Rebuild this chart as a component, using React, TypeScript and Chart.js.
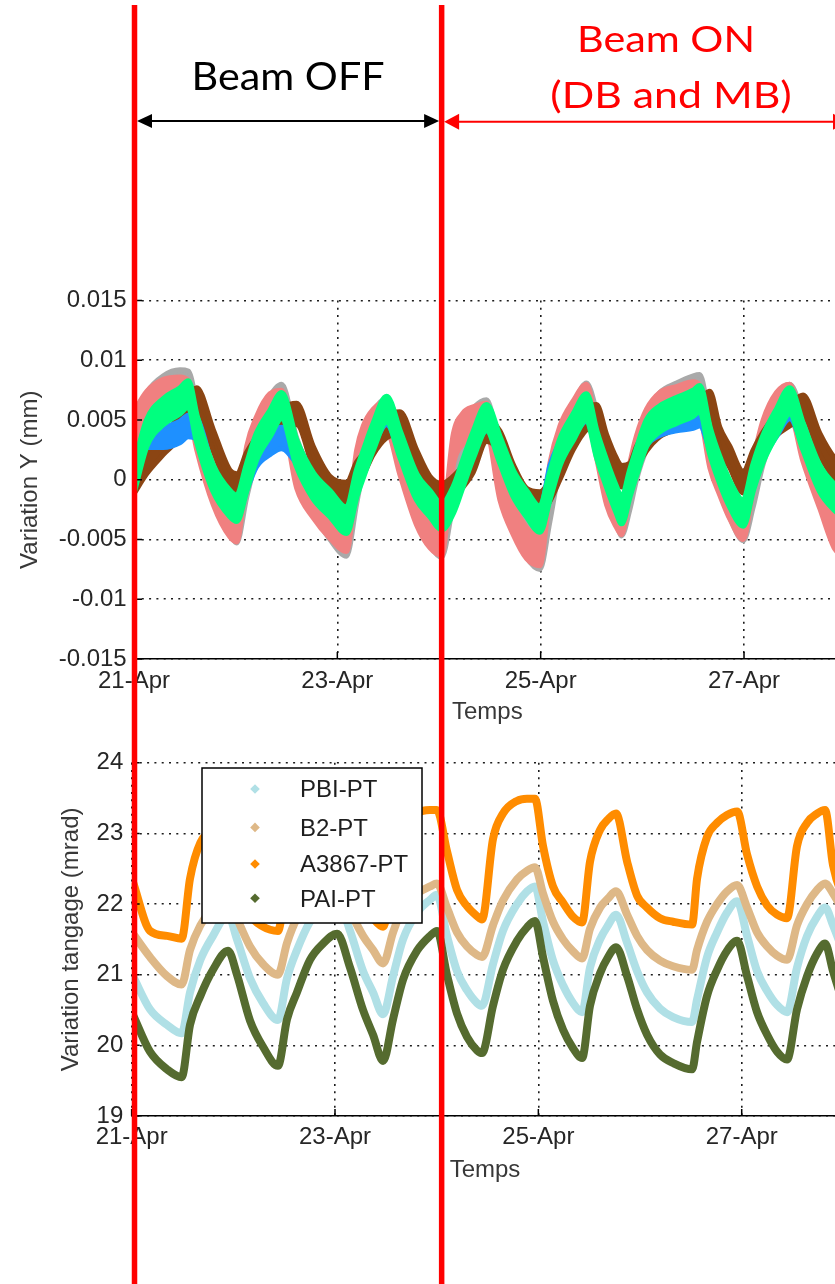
import React, { useEffect, useRef } from 'react';
import { Chart, registerables } from 'chart.js';

Chart.register(...registerables);

// ---------------- data ----------------
const xTickValues = [0, 2, 4, 6];
const xTickLabels = ['21-Apr', '23-Apr', '25-Apr', '27-Apr'];
const topYTickValues = [-0.015, -0.01, -0.005, 0, 0.005, 0.01, 0.015];
const topYTickLabels = ['-0.015', '-0.01', '-0.005', '0', '0.005', '0.01', '0.015'];
const bottomYTickValues = [19, 20, 21, 22, 23, 24];
const bottomYTickLabels = ['19', '20', '21', '22', '23', '24'];
// days since 21-Apr 00:00 where the beam state changes (red markers)
const beamSwitchTimes = [0.005, 3.026];

// top chart: time (days since 21-Apr 00:00) and band centres (mm)
const topTimes = [0.005, 0.125, 0.288, 0.452, 0.534, 0.617, 0.780, 0.944, 1.010, 1.108, 1.206, 1.337, 1.452, 1.600, 1.763, 1.927, 2.091, 2.190, 2.255, 2.353, 2.485, 2.616, 2.780, 2.911, 3.026, 3.140, 3.238, 3.336, 3.468, 3.599, 3.730, 3.861, 3.992, 4.091, 4.189, 4.320, 4.451, 4.550, 4.648, 4.746, 4.796, 4.877, 4.943, 5.041, 5.172, 5.336, 5.500, 5.565, 5.664, 5.762, 5.861, 5.992, 6.090, 6.188, 6.319, 6.450, 6.581, 6.745, 6.893, 7.040];
const yGray = [0.0035, 0.0058, 0.0072, 0.0077, 0.0076, 0.0050, 0.0000, -0.0030, -0.0038, 0.0000, 0.0032, 0.0055, 0.0065, 0.0020, -0.0012, -0.0035, -0.0049, -0.0005, 0.0022, 0.0042, 0.0053, 0.0028, -0.0015, -0.0040, -0.0050, -0.0005, 0.0032, 0.0045, 0.0052, 0.0010, -0.0025, -0.0050, -0.0060, -0.0020, 0.0025, 0.0048, 0.0066, 0.0042, 0.0002, -0.0022, -0.0032, -0.0010, 0.0015, 0.0040, 0.0058, 0.0066, 0.0072, 0.0073, 0.0035, 0.0005, -0.0017, -0.0036, -0.0008, 0.0028, 0.0055, 0.0065, 0.0040, 0.0000, -0.0040, -0.0052];
const ySalmon = [0.0045, 0.0061, 0.0071, 0.0073, 0.0070, 0.0038, -0.0008, -0.0035, -0.0039, 0.0015, 0.0040, 0.0059, 0.0062, 0.0006, -0.0019, -0.0036, -0.0047, 0.0012, 0.0032, 0.0046, 0.0053, 0.0017, -0.0025, -0.0044, -0.0050, 0.0025, 0.0043, 0.0048, 0.0051, -0.0004, -0.0033, -0.0053, -0.0059, 0.0001, 0.0032, 0.0053, 0.0067, 0.0031, -0.0008, -0.0027, -0.0033, 0.0001, 0.0024, 0.0046, 0.0060, 0.0065, 0.0069, 0.0066, 0.0023, 0.0000, -0.0020, -0.0037, 0.0004, 0.0037, 0.0060, 0.0067, 0.0028, -0.0011, -0.0045, -0.0055];
const yBrown = [-0.0002, 0.0014, 0.0030, 0.0045, 0.0060, 0.0068, 0.0033, -0.0001, -0.0004, 0.0014, 0.0027, 0.0042, 0.0051, 0.0055, 0.0019, -0.0006, -0.0011, 0.0006, 0.0013, 0.0030, 0.0044, 0.0048, 0.0016, -0.0006, -0.0012, -0.0006, 0.0003, 0.0015, 0.0041, 0.0032, 0.0004, -0.0016, -0.0019, -0.0009, 0.0009, 0.0034, 0.0051, 0.0054, 0.0029, 0.0009, 0.0003, 0.0005, 0.0019, 0.0033, 0.0045, 0.0051, 0.0055, 0.0058, 0.0065, 0.0035, 0.0019, -0.0002, 0.0016, 0.0031, 0.0046, 0.0054, 0.0062, 0.0030, 0.0009, -0.0002];
const yBlue = [0.0002, 0.0036, 0.0036, 0.0040, 0.0045, 0.0043, 0.0001, -0.0020, -0.0024, 0.0000, 0.0020, 0.0030, 0.0035, 0.0022, -0.0005, -0.0020, -0.0034, -0.0003, 0.0013, 0.0036, 0.0055, 0.0030, -0.0006, -0.0020, -0.0031, -0.0017, 0.0006, 0.0029, 0.0050, 0.0025, -0.0003, -0.0020, -0.0033, 0.0003, 0.0023, 0.0044, 0.0058, 0.0030, 0.0005, -0.0017, -0.0026, -0.0003, 0.0015, 0.0037, 0.0046, 0.0050, 0.0052, 0.0054, 0.0033, 0.0008, -0.0012, -0.0028, 0.0002, 0.0026, 0.0045, 0.0060, 0.0036, 0.0001, -0.0015, -0.0025];
const yGreen = [0.0002, 0.0039, 0.0057, 0.0066, 0.0072, 0.0043, 0.0001, -0.0020, -0.0024, 0.0002, 0.0028, 0.0047, 0.0062, 0.0022, -0.0005, -0.0020, -0.0034, -0.0003, 0.0013, 0.0036, 0.0059, 0.0030, -0.0006, -0.0020, -0.0031, -0.0017, 0.0006, 0.0029, 0.0052, 0.0025, -0.0003, -0.0020, -0.0033, -0.0005, 0.0023, 0.0044, 0.0061, 0.0030, 0.0005, -0.0017, -0.0026, -0.0003, 0.0015, 0.0039, 0.0051, 0.0058, 0.0064, 0.0068, 0.0033, 0.0008, -0.0012, -0.0028, 0.0002, 0.0026, 0.0048, 0.0066, 0.0036, 0.0001, -0.0015, -0.0025];
const topSeriesLabels = ['Capteur 5', 'Capteur 4', 'Capteur 3', 'Capteur 2', 'Capteur 1'];
// half spread (noise) of each band, mm
const topBandHalfWidth = [0.0015, 0.0013, 0.0009, 0.0009, 0.00105];

// bottom chart
const bottomTimes = [0.013, 0.180, 0.348, 0.492, 0.574, 0.676, 0.800, 0.948, 1.036, 1.164, 1.292, 1.439, 1.528, 1.626, 1.754, 1.882, 2.020, 2.148, 2.276, 2.374, 2.473, 2.571, 2.669, 2.807, 2.935, 3.003, 3.101, 3.200, 3.298, 3.396, 3.446, 3.554, 3.652, 3.790, 3.888, 3.967, 4.046, 4.144, 4.243, 4.341, 4.430, 4.508, 4.607, 4.686, 4.764, 4.873, 4.971, 5.069, 5.197, 5.325, 5.512, 5.561, 5.659, 5.758, 5.856, 5.955, 6.053, 6.151, 6.250, 6.348, 6.446, 6.544, 6.643, 6.741, 6.820, 6.898, 7.016];
const pbiPT = [20.98, 20.51, 20.29, 20.17, 20.75, 21.21, 21.55, 21.85, 21.50, 20.95, 20.60, 20.36, 20.95, 21.35, 21.75, 21.97, 22.08, 21.62, 21.05, 20.75, 20.44, 20.98, 21.50, 21.88, 22.06, 22.13, 21.55, 21.05, 20.78, 20.60, 20.56, 21.15, 21.62, 22.00, 22.18, 22.25, 21.75, 21.20, 20.85, 20.60, 20.47, 21.10, 21.50, 21.70, 21.85, 21.45, 21.05, 20.75, 20.52, 20.40, 20.33, 20.65, 21.25, 21.60, 21.88, 22.04, 21.55, 21.05, 20.77, 20.57, 20.47, 21.10, 21.55, 21.82, 21.95, 21.70, 21.25];
const b2PT = [21.58, 21.25, 20.98, 20.86, 21.35, 21.70, 21.95, 22.10, 21.80, 21.40, 21.15, 21.00, 21.45, 21.80, 22.05, 22.20, 22.30, 21.90, 21.55, 21.35, 21.16, 21.60, 21.95, 22.15, 22.25, 22.29, 21.95, 21.60, 21.40, 21.28, 21.25, 21.70, 22.05, 22.35, 22.47, 22.52, 22.15, 21.75, 21.50, 21.33, 21.23, 21.65, 21.95, 22.08, 22.18, 21.85, 21.55, 21.35, 21.20, 21.12, 21.07, 21.35, 21.75, 22.00, 22.18, 22.27, 21.95, 21.60, 21.40, 21.27, 21.21, 21.70, 22.00, 22.20, 22.29, 22.15, 21.85];
const a3867PT = [22.31, 21.62, 21.55, 21.51, 22.36, 22.87, 23.02, 23.05, 22.35, 21.85, 21.68, 21.62, 22.40, 22.90, 23.12, 23.20, 23.22, 22.45, 22.00, 21.80, 21.68, 22.45, 23.00, 23.28, 23.33, 23.33, 22.75, 22.20, 21.97, 21.83, 21.78, 22.92, 23.28, 23.46, 23.49, 23.49, 22.82, 22.25, 22.02, 21.82, 21.74, 22.60, 23.05, 23.20, 23.28, 22.60, 22.12, 21.95, 21.80, 21.75, 21.71, 22.36, 22.95, 23.15, 23.26, 23.31, 22.70, 22.25, 21.98, 21.85, 21.80, 22.82, 23.15, 23.28, 23.33, 22.55, 22.00];
const paiPT = [20.43, 19.91, 19.66, 19.55, 20.29, 20.70, 21.07, 21.34, 21.00, 20.35, 19.98, 19.71, 20.37, 20.75, 21.21, 21.44, 21.58, 21.10, 20.50, 20.15, 19.78, 20.37, 20.93, 21.34, 21.55, 21.62, 21.00, 20.45, 20.12, 19.93, 19.89, 20.56, 21.07, 21.48, 21.67, 21.76, 21.25, 20.63, 20.22, 19.96, 19.82, 20.56, 21.02, 21.25, 21.39, 20.98, 20.51, 20.15, 19.87, 19.75, 19.66, 20.05, 20.70, 21.07, 21.34, 21.48, 20.98, 20.47, 20.15, 19.91, 19.80, 20.51, 20.98, 21.30, 21.44, 21.05, 20.50];
const bottomLabels = ['PBI-PT', 'B2-PT', 'A3867-PT', 'PAI-PT'];

// ---------------- styles ----------------
const TOP_COLORS = ['#A9A9A9', '#F08080', '#8B4513', '#1E90FF', '#00FF7F'];
const TOP_EDGE_WIDTH = [5, 5, 5, 5, 6];
const BOTTOM_COLORS = ['#B0E0E6', '#DEB887', '#FF8C00', '#556B2F'];
const FONT = { family: "'Liberation Sans', Arial, sans-serif", size: 24, lineHeight: 1.2 };
const TICK_COLOR = '#262626';
const TITLE_COLOR = '#383838';
const X_MAX = 6.95;
const CANVAS_W = 900;
const TOP_H = 740;
const BOT_H = 544;

const shared: { redXs: number[] } = { redXs: [] };

function fixedTicks(values: number[]) {
  return (scale: any) => {
    scale.ticks = values.map((v) => ({ value: v }));
  };
}

function makeScales(o: {
  yTicks: number[]; yLabels: string[]; yMin: number; yMax: number; yWidth: number;
  yTickPad: number; yTitle: string; yTitlePad: number; xHeight: number; xTickPad: number;
}) {
  const grid = { color: '#1c1c1c', lineWidth: 1.6, drawTicks: false };
  const xBorder = { display: true, color: '#000', width: 1.5, dash: [2, 5.3] };
  const yBorder = { display: true, color: 'rgba(0,0,0,0)', width: 1.5, dash: [2, 5.3] };
  return {
    x: {
      type: 'linear', min: 0, max: X_MAX, bounds: 'data',
      afterBuildTicks: fixedTicks(xTickValues),
      afterFit: (s: any) => { s.height = o.xHeight; },
      ticks: {
        callback: (_v: any, i: number) => xTickLabels[i], padding: o.xTickPad,
        font: FONT, color: TICK_COLOR, maxRotation: 0, autoSkip: false,
      },
      grid, border: xBorder,
      title: { display: true, text: 'Temps', font: FONT, color: TITLE_COLOR, padding: { top: 0, bottom: 0 } },
    },
    y: {
      type: 'linear', min: o.yMin, max: o.yMax, bounds: 'data',
      afterBuildTicks: fixedTicks(o.yTicks),
      afterFit: (s: any) => { s.width = o.yWidth; },
      ticks: {
        callback: (_v: any, i: number) => o.yLabels[i], padding: o.yTickPad,
        font: FONT, color: TICK_COLOR, autoSkip: false,
      },
      grid, border: yBorder,
      title: { display: true, text: o.yTitle, font: FONT, color: TITLE_COLOR, padding: { top: o.yTitlePad, bottom: 0 } },
    },
  };
}

const inwardTicks = {
  id: 'inwardTicks',
  afterDatasetsDraw(chart: any) {
    const { ctx, chartArea: a, scales } = chart;
    ctx.save();
    ctx.strokeStyle = '#000';
    ctx.lineWidth = 1.5;
    ctx.beginPath();
    scales.x.ticks.forEach((t: any) => {
      const px = scales.x.getPixelForValue(t.value);
      ctx.moveTo(px, a.bottom);
      ctx.lineTo(px, a.bottom - 7);
    });
    scales.y.ticks.forEach((t: any) => {
      const py = scales.y.getPixelForValue(t.value);
      ctx.moveTo(a.left, py);
      ctx.lineTo(a.left + 8, py);
    });
    ctx.stroke();
    ctx.restore();
  },
};

function drawRedLines(ctx: CanvasRenderingContext2D, xs: number[], y0: number, y1: number) {
  ctx.save();
  ctx.strokeStyle = '#FF0000';
  ctx.lineWidth = 5.5;
  ctx.beginPath();
  xs.forEach((x) => { ctx.moveTo(x, y0); ctx.lineTo(x, y1); });
  ctx.stroke();
  ctx.restore();
}

function fitText(ctx: CanvasRenderingContext2D, text: string, cx: number, baseline: number, width: number, size: number, color: string) {
  ctx.save();
  ctx.font = `${size}px Lato, 'Open Sans', sans-serif`;
  const w = ctx.measureText(text).width;
  ctx.translate(cx, baseline);
  ctx.scale(width / w, 1);
  ctx.fillStyle = color;
  ctx.textAlign = 'center';
  ctx.textBaseline = 'alphabetic';
  ctx.fillText(text, 0, 0);
  ctx.restore();
}

function arrowHead(ctx: CanvasRenderingContext2D, tipX: number, y: number, dir: number, len: number, half: number) {
  ctx.beginPath();
  ctx.moveTo(tipX, y);
  ctx.lineTo(tipX - dir * len, y - half);
  ctx.lineTo(tipX - dir * len, y + half);
  ctx.closePath();
  ctx.fill();
}

const topOverlay = {
  id: 'topOverlay',
  afterDraw(chart: any) {
    const ctx: CanvasRenderingContext2D = chart.ctx;
    const xs = beamSwitchTimes.map((t) => chart.scales.x.getPixelForValue(t));
    shared.redXs = xs;
    // black arrow: Beam OFF period
    ctx.save();
    ctx.strokeStyle = '#000';
    ctx.fillStyle = '#000';
    ctx.lineWidth = 2;
    const ya = 121;
    const l1 = xs[0] + 2.5;
    const r1 = xs[1] - 2.5;
    ctx.beginPath();
    ctx.moveTo(l1 + 8, ya);
    ctx.lineTo(r1 - 8, ya);
    ctx.stroke();
    arrowHead(ctx, l1, ya, -1, 15, 7);
    arrowHead(ctx, r1, ya, 1, 15, 7);
    // red arrow: Beam ON period
    ctx.strokeStyle = '#FF0000';
    ctx.fillStyle = '#FF0000';
    const yb = 121.7;
    const l2 = xs[1] + 2.5;
    ctx.beginPath();
    ctx.moveTo(l2 + 8, yb);
    ctx.lineTo(840, yb);
    ctx.stroke();
    arrowHead(ctx, l2, yb, -1, 15, 8);
    arrowHead(ctx, 848, yb, 1, 15, 8);
    ctx.restore();
    fitText(ctx, 'Beam OFF', (xs[0] + xs[1]) / 2, 90, 193, 39.5, '#000');
    fitText(ctx, 'Beam ON', 666, 51.7, 178, 37.3, '#FF0000');
    fitText(ctx, '(DB and MB)', 671, 108.3, 241.5, 36, '#FF0000');
    drawRedLines(ctx, xs, 5, chart.height);
  },
};

const bottomOverlay = {
  id: 'bottomOverlay',
  afterDatasetsDraw(chart: any) {
    const ctx: CanvasRenderingContext2D = chart.ctx;
    // legend box
    const bx = 202, by = 28, bw = 220, bh = 155;
    ctx.save();
    ctx.fillStyle = '#fff';
    ctx.fillRect(bx, by, bw, bh);
    ctx.strokeStyle = '#000';
    ctx.lineWidth = 1.5;
    ctx.strokeRect(bx, by, bw, bh);
    const rowY = [50.8, 89.2, 125.8, 160];
    ctx.font = `24px 'Liberation Sans', Arial, sans-serif`;
    ctx.textAlign = 'left';
    ctx.textBaseline = 'middle';
    bottomLabels.forEach((lab, i) => {
      const ds = chart.data.datasets.find((d: any) => d.label === lab);
      const my = rowY[i] - 1.8;
      ctx.fillStyle = ds.borderColor;
      ctx.beginPath();
      ctx.moveTo(255, my - 4.8);
      ctx.lineTo(259.8, my);
      ctx.lineTo(255, my + 4.8);
      ctx.lineTo(250.2, my);
      ctx.closePath();
      ctx.fill();
      ctx.fillStyle = '#1e1e1e';
      ctx.fillText(lab, 300, rowY[i]);
    });
    ctx.restore();
  },
  afterDraw(chart: any) {
    drawRedLines(chart.ctx, shared.redXs, 0, chart.height);
  },
};

function topConfig(): any {
  const series = [yGray, ySalmon, yBrown, yBlue, yGreen];
  const datasets: any[] = [];
  series.forEach((vals, k) => {
    const half = topBandHalfWidth[k];
    const common = {
      borderColor: TOP_COLORS[k], backgroundColor: TOP_COLORS[k], borderWidth: TOP_EDGE_WIDTH[k],
      pointRadius: 0, cubicInterpolationMode: 'monotone', order: 10 - k,
      borderJoinStyle: 'round', borderCapStyle: 'round',
    };
    datasets.push({ ...common, label: topSeriesLabels[k] + ' min', data: topTimes.map((t, i) => ({ x: t, y: vals[i] - half })), fill: false });
    datasets.push({ ...common, label: topSeriesLabels[k] + ' max', data: topTimes.map((t, i) => ({ x: t, y: vals[i] + half })), fill: '-1' });
  });
  return {
    type: 'line',
    data: { datasets },
    options: {
      responsive: false, animation: false, devicePixelRatio: 1, events: [],
      layout: { padding: { top: 300.5, left: 0, right: CANVAS_W - 840.6, bottom: 13.6 } },
      plugins: { legend: { display: false }, tooltip: { enabled: false } },
      scales: makeScales({
        yTicks: topYTickValues, yLabels: topYTickLabels, yMin: -0.015, yMax: 0.015, yWidth: 134,
        yTickPad: 7.3, yTitle: 'Variation Y (mm)', yTitlePad: 15.6, xHeight: 67.4, xTickPad: 8.1,
      }),
    },
    plugins: [inwardTicks, topOverlay],
  };
}

function bottomConfig(): any {
  const series = [pbiPT, b2PT, a3867PT, paiPT];
  const datasets = series.map((vals, k) => ({
    label: bottomLabels[k],
    data: bottomTimes.map((t, i) => ({ x: t, y: vals[i] })),
    borderColor: BOTTOM_COLORS[k], backgroundColor: BOTTOM_COLORS[k], borderWidth: 8,
    pointRadius: 0, cubicInterpolationMode: 'monotone', fill: false, order: 4 - k,
    borderJoinStyle: 'round',
  }));
  return {
    type: 'line',
    data: { datasets },
    options: {
      responsive: false, animation: false, devicePixelRatio: 1, events: [],
      layout: { padding: { top: 15, left: 0, right: CANVAS_W - 838.3, bottom: 99.6 } },
      plugins: { legend: { display: false }, tooltip: { enabled: false } },
      scales: makeScales({
        yTicks: bottomYTickValues, yLabels: bottomYTickLabels, yMin: 19, yMax: 24, yWidth: 131.65,
        yTickPad: 8.35, yTitle: 'Variation tangage (mrad)', yTitlePad: 56.6, xHeight: 68.4, xTickPad: 6.6,
      }),
    },
    plugins: [inwardTicks, bottomOverlay],
  };
}

export default function App() {
  const topRef = useRef<HTMLCanvasElement>(null);
  const botRef = useRef<HTMLCanvasElement>(null);
  useEffect(() => {
    const top = new Chart(topRef.current as HTMLCanvasElement, topConfig());
    const bot = new Chart(botRef.current as HTMLCanvasElement, bottomConfig());
    return () => {
      top.destroy();
      bot.destroy();
    };
  }, []);
  return (
    <div style={{ position: 'fixed', left: 0, top: 0, width: 835, height: 1284, overflow: 'hidden', background: '#fff' }}>
      <canvas ref={topRef} width={CANVAS_W} height={TOP_H} style={{ position: 'absolute', left: 0, top: 0 }} />
      <canvas ref={botRef} width={CANVAS_W} height={BOT_H} style={{ position: 'absolute', left: 0, top: TOP_H }} />
    </div>
  );
}
